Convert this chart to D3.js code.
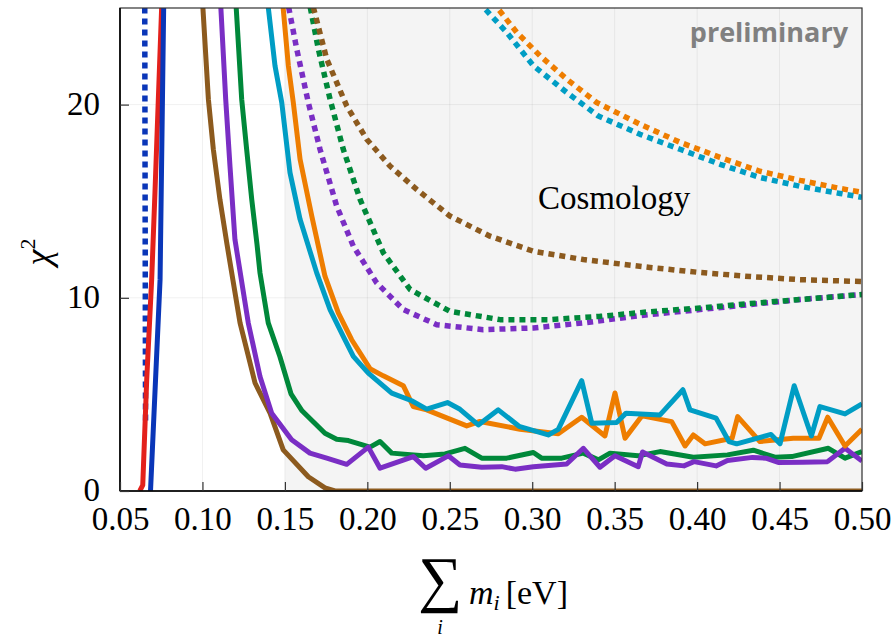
<!DOCTYPE html>
<html>
<head>
<meta charset="utf-8">
<script src="https://cdn.jsdelivr.net/npm/d3@7"></script>
<style>
  body { margin: 0; background: #fff; }
</style>
</head>
<body>
<script>
// Ticks
var X_TICKS = [0.05, 0.10, 0.15, 0.20, 0.25, 0.30, 0.35, 0.40, 0.45, 0.50];
var Y_TICKS = [0, 10, 20];
var COSMO_START = 0.15;

// Solid curves (sum of masses, chi2)
var blueDotX = [0.0650, 0.0655];
var blueDotY = [25.6, 3.4];
var redX = [0.0620, 0.0638, 0.0662, 0.0692, 0.0712, 0.0753, 0.0758];
var redY = [0, 0.3, 5.76, 10.94, 15.44, 25.12, 26];
var blueX = [0.0685, 0.0743, 0.0765, 0.0768];
var blueY = [0, 10.94, 25.12, 26];

var brownX = [0.0995, 0.1002, 0.1036, 0.1066, 0.1106, 0.1149, 0.1228, 0.1319, 0.1410, 0.1490, 0.1642, 0.1743, 0.1804, 0.50];
var brownY = [26, 25.12, 20.28, 17.69, 15.09, 12.76, 8.70, 5.59, 4.03, 2.13, 0.74, 0.16, 0, 0];

var purpleX = [0.1105, 0.1111, 0.1141, 0.1167, 0.1197, 0.1278, 0.1349, 0.1420, 0.1541, 0.1652, 0.1754, 0.1875,
  0.2006, 0.2077, 0.2279, 0.2354, 0.2491, 0.2562, 0.2694, 0.2815, 0.2896, 0.3007, 0.3209, 0.3310, 0.3411,
  0.3502, 0.3643, 0.3669, 0.3816, 0.3920, 0.3981, 0.4115, 0.4184, 0.4336, 0.4417, 0.4492, 0.4639, 0.4791,
  0.4897, 0.50];
var purpleY = [26, 25.12, 20.28, 16.82, 13.02, 8.70, 5.93, 4.03, 2.65, 1.96, 1.70, 1.38,
  2.27, 1.18, 1.78, 1.18, 1.82, 1.35, 1.23, 1.26, 1.13, 1.26, 1.40, 2.21, 1.23,
  1.82, 1.26, 2.02, 1.40, 1.30, 1.52, 1.30, 1.58, 1.74, 1.70, 1.48, 1.49, 1.52,
  2.21, 1.55];

var greenX = [0.1198, 0.1204, 0.1238, 0.1268, 0.1299, 0.1331, 0.1349, 0.1399, 0.1470, 0.1537, 0.1604, 0.1743,
  0.1814, 0.1885, 0.2016, 0.2077, 0.2148, 0.2339, 0.2471, 0.2592, 0.2694, 0.2845, 0.3007, 0.3057, 0.3179,
  0.3310, 0.3401, 0.3472, 0.3641, 0.3775, 0.3977, 0.4184, 0.4341, 0.4472, 0.4574, 0.4796, 0.4897, 0.50];
var greenY = [26, 25.12, 20.28, 17.69, 15.09, 12.76, 11.29, 8.70, 6.95, 5.03, 4.15, 2.99,
  2.68, 2.61, 2.27, 2.56, 1.96, 1.82, 1.92, 2.21, 1.70, 1.70, 1.99, 1.70, 1.70,
  1.96, 1.61, 1.96, 1.82, 2.04, 1.75, 1.87, 2.11, 1.75, 1.78, 2.21, 1.70, 2.04];

var cyanX = [0.1394, 0.1399, 0.1440, 0.1481, 0.1531, 0.1592, 0.1693, 0.1774, 0.1854, 0.1915, 0.2006, 0.2148,
  0.2269, 0.2360, 0.2486, 0.2562, 0.2673, 0.2794, 0.2920, 0.3097, 0.3158, 0.3300, 0.3361, 0.3512, 0.3569,
  0.3775, 0.3914, 0.3957, 0.4115, 0.4193, 0.4240, 0.4448, 0.4503, 0.4589, 0.4693, 0.4745, 0.4897, 0.50];
var cyanY = [26, 25.05, 22.01, 20.11, 16.48, 14.06, 11.29, 9.39, 8.00, 6.97, 6.10, 5.07,
  4.67, 4.24, 4.58, 4.23, 3.42, 4.20, 3.35, 2.90, 3.19, 5.71, 3.51, 3.55, 4.03,
  3.94, 5.24, 4.20, 3.77, 2.56, 2.44, 2.93, 2.45, 5.45, 2.85, 4.37, 3.99, 4.51];

var orangeX = [0.1484, 0.1489, 0.1521, 0.1551, 0.1592, 0.1663, 0.1743, 0.1824, 0.1905, 0.2016, 0.2097, 0.2218,
  0.2279, 0.2360, 0.2489, 0.2603, 0.2683, 0.2926, 0.3158, 0.3300, 0.3441, 0.3502, 0.3563, 0.3666, 0.3846,
  0.3927, 0.3977, 0.4048, 0.4212, 0.4246, 0.4381, 0.4583, 0.4739, 0.4792, 0.4897, 0.50];
var orangeY = [26, 25.05, 22.01, 20.11, 17.17, 14.23, 11.12, 9.22, 7.83, 6.33, 5.96, 5.45,
  4.37, 4.20, 3.76, 3.37, 3.60, 3.20, 2.96, 3.82, 2.85, 5.07, 2.73, 3.89, 3.59,
  2.33, 2.90, 2.44, 2.73, 3.85, 2.56, 2.73, 2.73, 3.82, 2.33, 3.20];

// Dotted (cosmology) curves
var purpleDotX = [0.1510, 0.1521, 0.1572, 0.1642, 0.1713, 0.1814, 0.1915, 0.2057, 0.2218, 0.2421, 0.2703, 0.3007, 0.3310, 0.3654, 0.4017, 0.4321, 0.4624, 0.50];
var purpleDotY = [25.6, 25.12, 22.87, 20.11, 17.69, 14.75, 12.67, 10.77, 9.39, 8.61, 8.35, 8.44, 8.70, 9.08, 9.39, 9.65, 9.91, 10.17];
var greenDotX = [0.1643, 0.1652, 0.1703, 0.1774, 0.1854, 0.1956, 0.2097, 0.2259, 0.2501, 0.2805, 0.3108, 0.3411, 0.3714, 0.4017, 0.4321, 0.4624, 0.50];
var greenDotY = [25.6, 25.12, 22.87, 20.28, 17.69, 15.09, 12.33, 10.43, 9.30, 8.87, 8.87, 9.04, 9.28, 9.47, 9.70, 9.91, 10.17];
var brownDotX = [0.1660, 0.1670, 0.1754, 0.1875, 0.1996, 0.2137, 0.2299, 0.2501, 0.2744, 0.3007, 0.3310, 0.3714, 0.4017, 0.4321, 0.4624, 0.50];
var brownDotY = [25.6, 25.12, 22.35, 19.93, 18.21, 16.82, 15.61, 14.23, 13.19, 12.41, 11.98, 11.57, 11.31, 11.10, 10.94, 10.84];
var orangeDotX = [0.2756, 0.2794, 0.2906, 0.3047, 0.3209, 0.3391, 0.3654, 0.3896, 0.4139, 0.4381, 0.4624, 0.4867, 0.50];
var orangeDotY = [25.31, 24.95, 23.74, 22.53, 21.32, 20.11, 18.98, 18.05, 17.27, 16.55, 16.08, 15.66, 15.46];
var cyanDotX = [0.2677, 0.2714, 0.2845, 0.3007, 0.3209, 0.3401, 0.3654, 0.3896, 0.4139, 0.4381, 0.4624, 0.4867, 0.50];
var cyanDotY = [25.36, 24.95, 23.74, 22.01, 20.63, 19.41, 18.46, 17.69, 16.91, 16.23, 15.77, 15.40, 15.20];

// Colors
var BLUE = '#0a36b8';
var RED = '#e3211c';
var BROWN = '#8c5a1e';
var PURPLE = '#7a2ec4';
var GREEN = '#00883a';
var CYAN = '#009dc4';
var ORANGE = '#ee7d00';

var SERIF = '"Liberation Serif", "DejaVu Serif", serif';
var WIDTH = 894;
var HEIGHT = 640;
var M = { left: 120, right: 862, top: 8, bottom: 491 };

var x = d3.scaleLinear().domain([0.05, 0.50]).range([M.left, M.right]);
var y = d3.scaleLinear().domain([0, 25]).range([M.bottom, M.top]);

var svg = d3.select('body').append('svg')
  .attr('width', WIDTH)
  .attr('height', HEIGHT);

svg.append('defs').append('clipPath')
  .attr('id', 'plot-clip')
  .append('rect')
  .attr('x', M.left)
  .attr('y', M.top)
  .attr('width', M.right - M.left)
  .attr('height', M.bottom - M.top);

// cosmology shading
svg.append('rect')
  .attr('x', x(COSMO_START))
  .attr('y', M.top)
  .attr('width', x(0.50) - x(COSMO_START))
  .attr('height', M.bottom - M.top)
  .attr('fill', '#f4f4f4');

// grid
svg.append('g').selectAll('line')
  .data(X_TICKS)
  .join('line')
  .attr('x1', function (d) { return x(d); })
  .attr('x2', function (d) { return x(d); })
  .attr('y1', M.top)
  .attr('y2', M.bottom)
  .attr('stroke', '#000')
  .attr('stroke-opacity', 0.06);

svg.append('g').selectAll('line')
  .data(Y_TICKS)
  .join('line')
  .attr('x1', M.left)
  .attr('x2', M.right)
  .attr('y1', function (d) { return y(d); })
  .attr('y2', function (d) { return y(d); })
  .attr('stroke', '#000')
  .attr('stroke-opacity', 0.06);

var lineFn = d3.line()
  .x(function (d) { return x(d[0]); })
  .y(function (d) { return y(d[1]); });

var curves = [
  [purpleDotX, purpleDotY, PURPLE, true],
  [greenDotX, greenDotY, GREEN, true],
  [brownDotX, brownDotY, BROWN, true],
  [orangeDotX, orangeDotY, ORANGE, true],
  [cyanDotX, cyanDotY, CYAN, true],
  [blueDotX, blueDotY, BLUE, true],
  [redX, redY, RED, false],
  [blueX, blueY, BLUE, false],
  [brownX, brownY, BROWN, false],
  [greenX, greenY, GREEN, false],
  [purpleX, purpleY, PURPLE, false],
  [orangeX, orangeY, ORANGE, false],
  [cyanX, cyanY, CYAN, false]
];

var plot = svg.append('g').attr('clip-path', 'url(#plot-clip)');

curves.forEach(function (c) {
  var pts = c[0].map(function (v, i) { return [v, c[1][i]]; });
  plot.append('path')
    .attr('d', lineFn(pts))
    .attr('fill', 'none')
    .attr('stroke', c[2])
    .attr('stroke-width', c[3] ? 5.5 : 5)
    .attr('stroke-dasharray', c[3] ? '6,5' : null)
    .attr('stroke-linejoin', 'round');
});

// frame
svg.append('rect')
  .attr('x', M.left)
  .attr('y', M.top)
  .attr('width', M.right - M.left)
  .attr('height', M.bottom - M.top)
  .attr('fill', 'none')
  .attr('stroke', '#333')
  .attr('stroke-width', 1.2);

svg.append('line')
  .attr('x1', M.left).attr('x2', M.right)
  .attr('y1', M.bottom).attr('y2', M.bottom)
  .attr('stroke', '#000').attr('stroke-width', 1.6);
svg.append('line')
  .attr('x1', M.left).attr('x2', M.left)
  .attr('y1', M.top).attr('y2', M.bottom)
  .attr('stroke', '#000').attr('stroke-width', 1.6);

// axes (ticks pointing inward)
var xAxis = svg.append('g')
  .attr('transform', 'translate(0,' + M.bottom + ')')
  .call(d3.axisBottom(x).tickValues(X_TICKS).tickFormat(d3.format('.2f')).tickSize(-9).tickPadding(16));
xAxis.select('.domain').remove();
xAxis.selectAll('.tick line').attr('stroke', '#333').attr('stroke-width', 1.2);
xAxis.selectAll('.tick text')
  .style('font-family', SERIF)
  .style('font-size', '33px')
  .attr('fill', '#000')
  .attr('dy', '0.71em');

var yAxis = svg.append('g')
  .attr('transform', 'translate(' + M.left + ',0)')
  .call(d3.axisLeft(y).tickValues(Y_TICKS).tickFormat(d3.format('d')).tickSize(-9).tickPadding(20));
yAxis.select('.domain').remove();
yAxis.selectAll('.tick line').attr('stroke', '#333').attr('stroke-width', 1.2);
yAxis.selectAll('.tick text')
  .style('font-family', SERIF)
  .style('font-size', '33px')
  .attr('fill', '#000')
  .attr('dy', '0.3em');

// annotations
svg.append('text')
  .attr('x', 538)
  .attr('y', 209)
  .style('font-family', SERIF)
  .style('font-size', '33px')
  .attr('fill', '#000')
  .text('Cosmology');

svg.append('text')
  .attr('x', 848)
  .attr('y', 42)
  .attr('text-anchor', 'end')
  .style('font-family', '"Open Sans", sans-serif')
  .style('font-weight', 'bold')
  .style('font-size', '27px')
  .attr('fill', '#808080')
  .text('preliminary');

// y label: chi^2
var yl = svg.append('text')
  .attr('transform', 'translate(50,252) rotate(-90)')
  .attr('text-anchor', 'middle')
  .style('font-family', SERIF)
  .style('font-size', '36px');
yl.append('tspan').style('font-style', 'italic').text('χ');
yl.append('tspan').style('font-size', '22px').attr('dy', -15).text('2');

// x label: sum_i m_i [eV]
var xl = svg.append('g');
xl.append('text')
  .attr('x', 440)
  .attr('y', 600)
  .attr('text-anchor', 'middle')
  .style('font-family', SERIF)
  .style('font-size', '62px')
  .text('∑');
xl.append('text')
  .attr('x', 440)
  .attr('y', 634)
  .attr('text-anchor', 'middle')
  .style('font-family', SERIF)
  .style('font-style', 'italic')
  .style('font-size', '20px')
  .text('i');
var xm = xl.append('text')
  .attr('x', 469)
  .attr('y', 604)
  .style('font-family', SERIF)
  .style('font-size', '34px');
xm.append('tspan').style('font-style', 'italic').text('m');
xm.append('tspan').style('font-style', 'italic').style('font-size', '22px').attr('dy', 6).text('i');
xm.append('tspan').attr('dy', -6).attr('dx', 6).text('[eV]');
</script>
</body>
</html>
